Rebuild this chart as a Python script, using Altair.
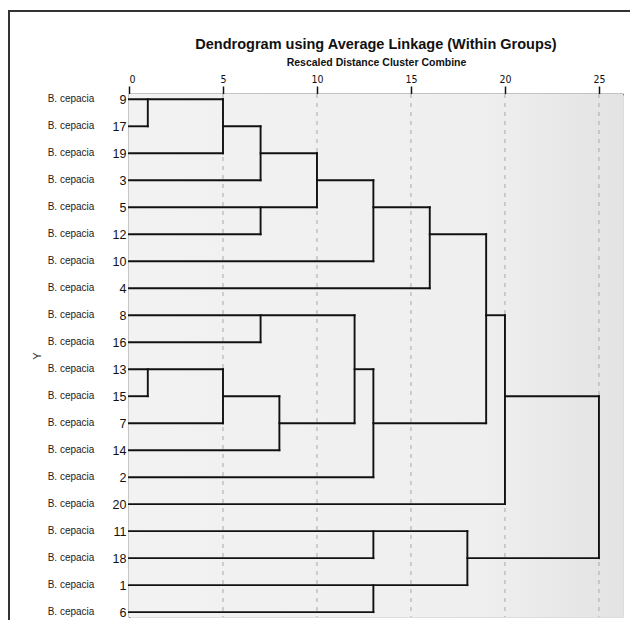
import altair as alt
import pandas as pd

# leaves, top to bottom
leaf_ids = [9, 17, 19, 3, 5, 12, 10, 4, 8, 16, 13, 15, 7, 14, 2, 20, 11, 18, 1, 6]
species = ["B. cepacia"] * 20

# horizontal segments: row, from distance, to distance
h_row = [0, 1, 1, 2, 2, 3, 3, 4, 4, 5, 5, 6, 7, 8, 8, 9, 10, 10, 11, 11, 11, 12, 12, 12, 13, 14, 15, 16, 17, 17, 18, 19]
h_x1 = [0, 0, 5, 0, 7, 0, 10, 0, 13, 0, 16, 0, 0, 0, 19, 0, 0, 12, 0, 5, 20, 0, 8, 13, 0, 0, 0, 0, 0, 18, 0, 0]
h_x2 = [5, 1, 7, 5, 10, 7, 13, 10, 16, 7, 19, 13, 16, 12, 20, 7, 5, 13, 1, 8, 25, 5, 12, 19, 8, 13, 20, 18, 13, 25, 18, 13]

# vertical segments: distance, from row, to row
v_x = [1, 5, 7, 10, 7, 13, 16, 7, 1, 5, 8, 12, 13, 19, 20, 25, 13, 18, 13]
v_r1 = [0, 0, 1, 2, 4, 3, 4, 8, 10, 10, 11, 8, 10, 5, 8, 11, 16, 16, 18]
v_r2 = [1, 2, 3, 4, 5, 6, 7, 9, 11, 12, 13, 12, 14, 12, 15, 17, 17, 18, 19]

grid_ticks = [5, 10, 15, 20, 25]
axis_ticks = [0, 5, 10, 15, 20, 25]

W, H = 494, 523
COND = "DejaVu Sans Condensed, Liberation Sans, sans-serif"
REG = "Liberation Sans, Arial, sans-serif"

seg = pd.DataFrame({
    "x": h_x1 + v_x,
    "x2": h_x2 + v_x,
    "y": h_row + v_r1,
    "y2": h_row + v_r2,
})
grid_df = pd.DataFrame({"x": grid_ticks})
lab_df = pd.DataFrame({"y": list(range(len(leaf_ids))), "label": species})

xscale = alt.Scale(domain=[0, 26.28], nice=False, zero=False)
yscale = alt.Scale(domain=[-0.196, 19.18], nice=False, zero=False, reverse=True)

label_map = "[" + ",".join("'%d'" % v for v in leaf_ids) + "]"

x_axis = alt.Axis(
    orient="top", values=axis_ticks, grid=False, tickSize=8, tickColor="#111",
    tickWidth=1.5, domainColor="#111", domainWidth=1.5, labelFont=COND,
    labelFontSize=10.5, labelColor="#111", labelPadding=2,
    title="Rescaled Distance Cluster Combine", titleFont=REG,
    titleFontSize=10.5, titleFontWeight="bold", titleColor="#111",
    titleY=-29, titleBaseline="alphabetic",
)
y_axis = alt.Axis(
    orient="left", values=list(range(len(leaf_ids))), labelExpr=label_map + "[datum.value]",
    ticks=False, grid=False, domainColor="#222", domainWidth=1.5,
    labelFont=REG, labelFontSize=12.5, labelColor="#111", labelPadding=3,
    title="Y", titleFont=REG, titleFontSize=11, titleFontWeight="normal",
    titleColor="#222", titleX=-92, titleY=H / 2, titleBaseline="middle",
)

frame = alt.Chart(alt.Data(values=[{}])).mark_rect(
    filled=False, color="#333", strokeWidth=2
).encode(x=alt.value(-120), x2=alt.value(530), y=alt.value(-83), y2=alt.value(560))

bg = alt.Chart(alt.Data(values=[{}])).mark_rect(
    color=alt.LinearGradient(
        gradient="linear", x1=0, x2=1, y1=0, y2=0,
        stops=[alt.GradientStop(color="#f2f2f2", offset=0),
               alt.GradientStop(color="#efefef", offset=0.72),
               alt.GradientStop(color="#e3e3e3", offset=1)],
    )
).encode(x=alt.value(0), x2=alt.value(W), y=alt.value(0), y2=alt.value(H))

grid = alt.Chart(grid_df).mark_rule(
    color="#a8a8a8", strokeWidth=1, strokeDash=[4, 5]
).encode(
    x=alt.X("x:Q", scale=xscale, axis=x_axis),
    y=alt.value(0), y2=alt.value(H),
)

lines = alt.Chart(seg).mark_rule(
    color="#111", strokeWidth=1.9, strokeCap="square"
).encode(
    x=alt.X("x:Q", scale=xscale, axis=x_axis),
    x2="x2:Q",
    y=alt.Y("y:Q", scale=yscale, axis=y_axis),
    y2="y2:Q",
)

labels = alt.Chart(lab_df).mark_text(
    align="center", baseline="middle", font=REG, fontSize=10, color="#222"
).encode(
    x=alt.value(-58),
    y=alt.Y("y:Q", scale=yscale, axis=y_axis),
    text="label:N",
)

chart = alt.layer(frame, bg, grid, lines, labels).properties(
    width=W, height=H,
    title=alt.TitleParams(
        "Dendrogram using Average Linkage (Within Groups)",
        font=REG, fontSize=14.5, fontWeight="bold", color="#111",
        anchor="middle", baseline="alphabetic", offset=0, dy=53,
    ),
    autosize=alt.AutoSizeParams(type="none"),
    padding={"left": 121, "top": 86, "right": 7, "bottom": 3},
).configure_view(stroke="#8c8c8c", strokeWidth=1.5).configure(background="white")

chart.save("out.html", embed_options={"renderer": "svg", "actions": False})
